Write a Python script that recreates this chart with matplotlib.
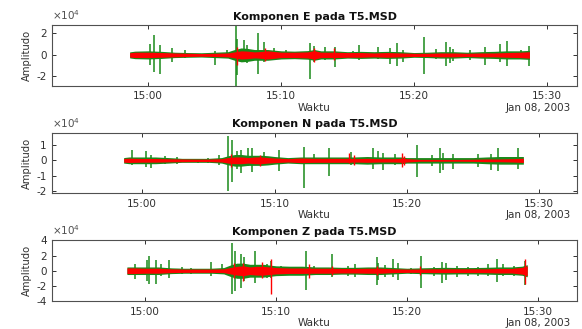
import matplotlib
matplotlib.use("Agg")
import matplotlib.pyplot as plt

plt.rcParams['font.family'] = ['DejaVu Sans']
plt.rcParams['axes.unicode_minus'] = False

# waktu dalam menit setelah 15:00, amplitudo dalam satuan 1e4
tick_pos = [0, 10, 20, 30]
tick_labels = ["15:00", "15:10", "15:20", "15:30"]

# ---- Komponen E ----
E_spike_t = [0.15, 0.4, 0.85, 1.8, 2.8, 5.0, 5.9, 6.6, 6.7, 7.2, 7.45, 8.3, 8.7, 9.5, 10.4, 12.2, 12.5, 13.3,
             14.1, 15.4, 15.9, 17.3, 18.2, 18.75, 19.2, 20.8, 21.7, 22.45, 22.7, 22.95, 24.2, 25.35, 26.5, 27.0, 28.1, 28.7]
E_spike_top = [1.05, 1.9, 0.96, 0.65, 0.44, 0.4, 0.44, 2.77, 1.5, 1.37, 0.9, 2.0, 1.2, 0.6, 0.45, 1.1, 0.84, 0.75,
               0.75, 0.35, 0.9, 0.75, 0.6, 1.1, 0.45, 1.7, 0.59, 1.2, 0.75, 0.59, 0.45, 0.75, 0.97, 1.25, 0.45, 0.84]
E_spike_bot = [-0.96, -1.6, -1.75, -0.7, -0.3, -0.9, -0.2, -2.87, -1.9, -0.65, -0.8, -1.75, -0.65, -0.2, -0.28, -2.2, -0.65, -0.5,
               -1.1, -0.1, -0.5, -0.4, -0.85, -1.0, -0.7, -1.75, -0.34, -1.0, -0.8, -0.59, -0.5, -0.9, -0.7, -1.0, -0.4, -1.0]
E_band_t = [-1.4, -1, 0, 1, 2, 3, 4, 5, 6, 6.5, 7, 7.5, 8, 8.5, 9, 10, 11, 12, 12.5, 13, 14, 15, 16, 17, 18,
            19, 20, 21, 22, 23, 24, 25, 26, 27, 28, 28.7]
E_red_band = [0.2, 0.25, 0.25, 0.22, 0.18, 0.15, 0.13, 0.15, 0.18, 0.28, 0.38, 0.35, 0.28, 0.32, 0.38, 0.25, 0.25, 0.28, 0.4, 0.25,
              0.25, 0.22, 0.22, 0.18, 0.22, 0.18, 0.15, 0.15, 0.18, 0.18, 0.15, 0.18, 0.18, 0.22, 0.25, 0.3]
E_green_band = [0.28, 0.35, 0.38, 0.33, 0.25, 0.22, 0.2, 0.25, 0.3, 0.5, 0.65, 0.6, 0.5, 0.5, 0.5, 0.38, 0.35, 0.4, 0.5, 0.38,
                0.38, 0.3, 0.33, 0.3, 0.33, 0.3, 0.22, 0.25, 0.3, 0.3, 0.25, 0.3, 0.33, 0.38, 0.38, 0.42]
E_red_t = [6.7, 8.8, 12.5, 14.0]
E_red_top = [0.7, 0.6, 0.65, 0.6]
E_red_bot = [-0.9, -0.6, -0.7, -0.5]

# ---- Komponen N ----
N_spike_t = [-0.8, 0.3, 0.7, 1.7, 2.6, 4.2, 5.0, 5.8, 6.5, 6.8, 7.2, 7.5, 8.0, 8.3, 9.2, 10.3, 12.2, 13.0, 14.1,
             15.8, 17.45, 17.8, 18.2, 19.1, 20.8, 21.9, 22.5, 22.7, 23.45, 25.4, 26.35, 26.9, 28.4]
N_spike_top = [0.67, 0.62, 0.33, 0.27, 0.22, 0.11, 0.18, 0.33, 1.6, 1.33, 0.62, 0.67, 0.78, 0.78, 0.56, 0.67, 0.84, 0.44, 0.78,
               0.56, 0.78, 0.62, 0.49, 0.44, 1.0, 0.33, 0.78, 0.49, 0.44, 0.4, 0.44, 0.78, 0.78]
N_spike_bot = [-0.33, -0.44, -0.49, -0.22, -0.22, -0.18, -0.18, -0.33, -2.0, -1.44, -0.56, -0.84, -0.4, -0.78, -0.33, -0.67, -1.8,
               -0.22, -1.0, -0.33, -0.56, -0.22, -0.62, -0.33, -1.07, -0.4, -0.84, -0.62, -0.56, -0.44, -0.62, -0.67, -0.56]
N_band_t = [-1.4, -1, 0, 1, 2, 3, 4, 5, 6, 6.5, 7, 7.5, 8, 8.5, 9, 9.5, 10, 11, 12, 13, 14, 15, 15.6, 16, 17,
            18, 19, 19.6, 20, 20.8, 21, 22, 23, 24, 25, 26, 27, 28, 28.8]
N_red_band = [0.12, 0.14, 0.12, 0.12, 0.1, 0.09, 0.08, 0.08, 0.11, 0.18, 0.22, 0.22, 0.18, 0.22, 0.22, 0.18, 0.15, 0.11, 0.15, 0.13,
              0.13, 0.13, 0.13, 0.11, 0.13, 0.11, 0.11, 0.13, 0.11, 0.07, 0.06, 0.06, 0.06, 0.06, 0.07, 0.09, 0.09, 0.11, 0.14]
N_green_band = [0.18, 0.22, 0.22, 0.22, 0.18, 0.13, 0.13, 0.13, 0.18, 0.3, 0.38, 0.38, 0.33, 0.33, 0.33, 0.3, 0.25, 0.18, 0.22, 0.22,
                0.22, 0.22, 0.22, 0.22, 0.25, 0.22, 0.22, 0.22, 0.18, 0.18, 0.18, 0.18, 0.18, 0.18, 0.18, 0.22, 0.25, 0.25, 0.25]
N_red_t = [6.7, 8.9, 15.6, 16.0, 19.6, 19.8]
N_red_top = [0.4, 0.35, 0.5, 0.35, 0.45, 0.3]
N_red_bot = [-0.45, -0.35, -0.2, -0.3, -0.45, -0.3]

# ---- Komponen Z ----
Z_spike_t = [-0.75, 0.1, 0.3, 0.8, 1.2, 1.8, 2.8, 3.5, 5.0, 5.9, 6.6, 6.9, 7.3, 7.55, 8.4, 9.3, 9.65, 10.4, 12.3, 12.9,
             14.3, 15.5, 16.0, 17.7, 17.8, 18.3, 18.95, 19.3, 20.3, 21.05, 22.1, 22.7, 23.0, 23.8, 24.7, 25.45, 26.2,
             26.9, 27.35, 28.2, 29.0]
Z_spike_top = [0.85, 1.4, 1.95, 1.4, 0.93, 1.4, 0.49, 0.4, 1.2, 0.93, 3.7, 2.6, 2.2, 1.8, 2.6, 0.84, 1.3, 0.62, 2.6, 0.62,
               2.2, 0.62, 0.84, 1.82, 1.07, 0.76, 1.51, 1.07, 0.4, 1.96, 0.49, 1.2, 1.07, 0.62, 0.49, 0.49, 0.84,
               1.51, 0.84, 0.62, 1.29]
Z_spike_bot = [-1.15, -1.4, -1.7, -1.8, -0.71, -0.95, -0.49, -0.4, -0.7, -0.49, -3.05, -2.7, -2.25, -1.3, -1.6, -0.93, -1.0,
               -0.58, -2.5, -0.58, -0.84, -0.71, -0.84, -1.82, -1.16, -0.84, -0.84, -1.29, -0.4, -2.27, -0.71, -1.6,
               -1.29, -0.84, -0.71, -0.71, -0.71, -1.47, -0.71, -0.71, -1.82]
Z_band_t = [-1.4, -1, 0, 1, 2, 3, 4, 5, 6, 6.5, 7, 7.5, 8, 8.5, 9, 10, 11, 12, 13, 14, 15, 16, 17, 18, 19,
            20, 21, 22, 23, 24, 25, 26, 27, 28, 28.8, 29.2]
Z_red_band = [0.38, 0.38, 0.33, 0.33, 0.25, 0.22, 0.22, 0.22, 0.25, 0.42, 0.58, 0.65, 0.5, 0.58, 0.58, 0.42, 0.36, 0.36, 0.33, 0.33,
              0.3, 0.3, 0.33, 0.33, 0.25, 0.22, 0.22, 0.25, 0.25, 0.25, 0.25, 0.25, 0.3, 0.3, 0.45, 0.65]
Z_green_band = [0.5, 0.5, 0.5, 0.5, 0.38, 0.33, 0.33, 0.33, 0.42, 0.75, 1.0, 1.0, 0.85, 0.85, 0.85, 0.65, 0.6, 0.6, 0.5, 0.5,
                0.45, 0.45, 0.5, 0.5, 0.42, 0.33, 0.38, 0.42, 0.45, 0.42, 0.42, 0.45, 0.5, 0.5, 0.6, 0.8]
Z_red_t = [6.8, 7.5, 8.9, 9.65, 12.5, 14.3, 17.7, 21.0, 29.0]
Z_red_top = [1.0, 1.0, 1.2, 1.5, 0.9, 0.6, 0.6, 0.6, 1.6]
Z_red_bot = [-1.0, -1.3, -1.0, -3.05, -0.9, -0.6, -0.6, -0.6, -1.7]

panels = [
    ("Komponen E pada T5.MSD", E_spike_t, E_spike_top, E_spike_bot, E_band_t, E_green_band, E_red_band,
     E_red_t, E_red_top, E_red_bot, (-7.22, 32.26), (-2.87, 2.77), [-2, 0, 2]),
    ("Komponen N pada T5.MSD", N_spike_t, N_spike_top, N_spike_bot, N_band_t, N_green_band, N_red_band,
     N_red_t, N_red_top, N_red_bot, (-6.79, 32.83), (-2.15, 1.8), [-2, -1, 0, 1]),
    ("Komponen Z pada T5.MSD", Z_spike_t, Z_spike_top, Z_spike_bot, Z_band_t, Z_green_band, Z_red_band,
     Z_red_t, Z_red_top, Z_red_bot, (-7.1, 32.98), (-4, 4), [-4, -2, 0, 2, 4]),
]

green = '#1a8a1a'
red = '#ff0000'
dark = '#303030'

fig = plt.figure(figsize=(5.82, 3.29), dpi=100)
bottoms = [0.7395, 0.4125, 0.0851]

for (judul, st, stop, sbot, bt, gb, rb, rt, rtop, rbot, xl, yl, yt), b in zip(panels, bottoms):
    ax = fig.add_axes([0.0899, b, 0.901, 0.184])
    # sinyal asli (hijau)
    ax.fill_between(bt, [-v for v in gb], gb, color=green, lw=0, zorder=1)
    ax.vlines(st, sbot, stop, color=green, lw=1.1, zorder=2)
    # sinyal terfilter (merah)
    ax.fill_between(bt, [-v for v in rb], rb, color=red, lw=0, zorder=3)
    ax.vlines(rt, rbot, rtop, color=red, lw=1.0, zorder=4)

    ax.set_xlim(*xl)
    ax.set_ylim(*yl)
    ax.set_xticks(tick_pos)
    ax.set_xticklabels(tick_labels)
    ax.set_yticks(yt)
    ax.tick_params(direction='in', length=3, width=0.7, colors=dark, labelsize=7.5,
                   top=True, right=True, pad=4)
    for s in ax.spines.values():
        s.set_color('#505050')
        s.set_linewidth(0.8)
    ax.set_title(judul, fontsize=8, fontweight='bold', pad=4, color='#111111')
    ax.set_ylabel('Amplitudo', fontsize=7.2, color=dark, labelpad=3)
    ax.set_xlabel('Waktu', fontsize=7.5, color=dark, labelpad=1)
    ax.annotate('Jan 08, 2003', xy=(1, 0), xycoords='axes fraction', xytext=(-6, -17),
                textcoords='offset pixels', ha='right', va='top', fontsize=7.5, color=dark)
    ax.annotate(r'$\times10^{4}$', xy=(0, 1), xycoords='axes fraction', xytext=(0, 3),
                textcoords='offset pixels', ha='left', va='bottom', fontsize=7.5, color='#505050')

fig.savefig('out.png', dpi=100)
